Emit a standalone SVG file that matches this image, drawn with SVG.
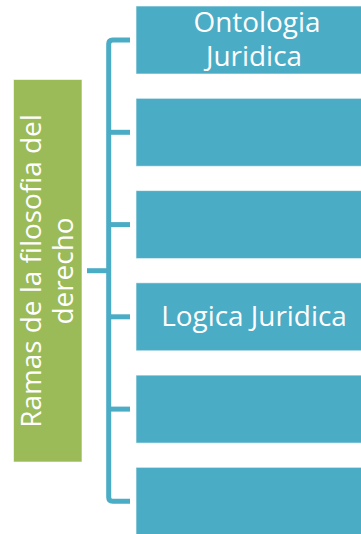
<svg xmlns="http://www.w3.org/2000/svg" width="361" height="534" viewBox="0 0 361 534">
<style>
.box{fill:#4BACC6;stroke:#ffffff;stroke-opacity:0.6;stroke-width:1}
.root{fill:#9BBB59;stroke:#ffffff;stroke-opacity:0.6;stroke-width:1}
.lbl{font-family:"Open Sans","Noto Sans",sans-serif;font-size:27.9px;fill:#ffffff;text-anchor:middle}
.conn{fill:none;stroke:#4BACC6;stroke-width:5;stroke-linejoin:round}
</style>
<rect x="0" y="0" width="361" height="534" fill="#ffffff"/>
<g id="connectors">
<path class="conn" d="M87,270.7 H108.7"/>
<path class="conn" d="M130,40 H112.7 Q108.7,40 108.7,44 V497.3 Q108.7,501.3 112.7,501.3 H130"/>
<path class="conn" d="M108.7,132.3 H130"/>
<path class="conn" d="M108.7,224.6 H130"/>
<path class="conn" d="M108.7,316.8 H130"/>
<path class="conn" d="M108.7,409.1 H130"/>
</g>
<g id="root">
<rect class="root" x="13.5" y="79.5" width="68.5" height="382.5"/>
<text class="lbl" transform="translate(57,271) rotate(-90)"><tspan x="0" y="-16.3">Ramas de la filosofia del</tspan><tspan x="0" y="16.3">derecho</tspan></text>
</g>
<g id="n1">
<rect class="box" x="136" y="6" width="238" height="68"/>
<text class="lbl"><tspan x="257" y="32.3">Ontologia</tspan><tspan x="254" y="65.7">Juridica</tspan></text>
</g>
<g id="n2">
<rect class="box" x="136" y="98.3" width="238" height="68"/>
</g>
<g id="n3">
<rect class="box" x="136" y="190.6" width="238" height="68"/>
</g>
<g id="n4">
<rect class="box" x="136" y="282.8" width="238" height="68"/>
<text class="lbl" x="254" y="325.7">Logica Juridica</text>
</g>
<g id="n5">
<rect class="box" x="136" y="375.1" width="238" height="68"/>
</g>
<g id="n6">
<rect class="box" x="136" y="467.3" width="238" height="68"/>
</g>
</svg>
